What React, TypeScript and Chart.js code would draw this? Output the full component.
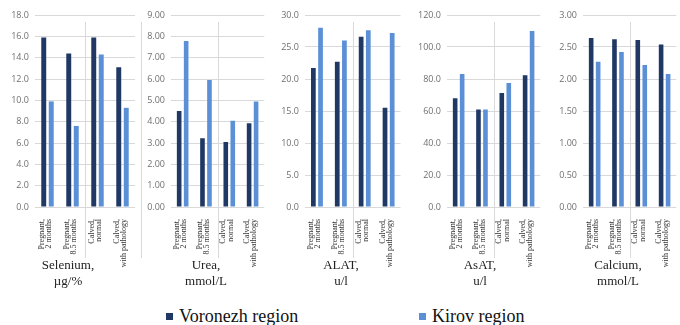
import React, { useEffect, useRef } from "react";
import { Chart, registerables } from "chart.js";

Chart.register(...registerables);

// ---- data ----
const categories: string[][] = [
  ["Pregnant,", "2 months"],
  ["Pregnant,", "8.5 months"],
  ["Calved,", "normal"],
  ["Calved,", "with pathology"],
];
const seriesNames = ["Voronezh region", "Kirov region"];
const panelTitles: string[][] = [
  ["Selenium,", "µg/%"],
  ["Urea,", "mmol/L"],
  ["ALAT,", "u/l"],
  ["AsAT,", "u/l"],
  ["Calcium,", "mmol/L"],
];
const voronezhSelenium = [15.9, 14.4, 15.9, 13.1];
const kirovSelenium = [9.9, 7.6, 14.3, 9.3];
const voronezhUrea = [4.5, 3.22, 3.05, 3.92];
const kirovUrea = [7.78, 5.95, 4.04, 4.94];
const voronezhALAT = [21.7, 22.7, 26.6, 15.5];
const kirovALAT = [28.0, 26.0, 27.6, 27.2];
const voronezhAsAT = [68.0, 61.0, 71.3, 82.3];
const kirovAsAT = [83.2, 61.0, 77.5, 110.0];
const voronezhCalcium = [2.64, 2.62, 2.61, 2.54];
const kirovCalcium = [2.27, 2.42, 2.22, 2.08];
const axisMax = [18, 9, 30, 120, 3];
const axisStep = [2, 1, 5, 20, 0.5];
const tickDecimals = [1, 2, 1, 1, 2];

const seriesByPanel = [
  [voronezhSelenium, kirovSelenium],
  [voronezhUrea, kirovUrea],
  [voronezhALAT, kirovALAT],
  [voronezhAsAT, kirovAsAT],
  [voronezhCalcium, kirovCalcium],
];

// ---- layout / style ----
const COLORS = ["#1f3864", "#5b90d6"];
const GRID = "#d9d9d9";
const CANVAS_H = 272;
const AREA_TOP = 15;
const AREA_BOTTOM = 207;
const panels = [
  { areaLeft: 35, areaW: 100, yW: 35, padRight: 8, edge: true, titleX: 68 },
  { areaLeft: 171, areaW: 100, yW: 36, padRight: 0, edge: false, titleX: 206 },
  { areaLeft: 305, areaW: 102, yW: 36, padRight: 0, edge: false, titleX: 341 },
  { areaLeft: 447, areaW: 100, yW: 42, padRight: 0, edge: false, titleX: 480 },
  { areaLeft: 583, areaW: 100, yW: 36, padRight: 0, edge: false, titleX: 618 },
];

const separatorPlugin = {
  id: "separator",
  beforeDatasetsDraw(chart: any, _args: any, opts: any) {
    const x = chart.scales.x;
    const ctx = chart.ctx;
    const mid = (x.getPixelForTick(1) + x.getPixelForTick(2)) / 2;
    ctx.save();
    ctx.strokeStyle = GRID;
    ctx.lineWidth = 1;
    const lines = [Math.round(mid) + 0.5];
    if (opts && opts.edge) lines.push(chart.width - 1.5);
    for (const lx of lines) {
      ctx.beginPath();
      ctx.moveTo(lx, 22);
      ctx.lineTo(lx, 258);
      ctx.stroke();
    }
    ctx.restore();
  },
};

function Panel({ idx }: { idx: number }) {
  const ref = useRef<HTMLCanvasElement>(null);
  const p = panels[idx];
  const width = p.yW + p.areaW + p.padRight;
  useEffect(() => {
    if (!ref.current) return;
    const chart = new Chart(ref.current, {
      type: "bar",
      data: {
        labels: categories,
        datasets: seriesByPanel[idx].map((vals, i) => ({
          label: seriesNames[i],
          data: vals,
          backgroundColor: COLORS[i],
          borderWidth: 0,
          categoryPercentage: 0.6,
          barPercentage: 0.66,
        })),
      },
      options: {
        responsive: false,
        animation: false,
        devicePixelRatio: 1,
        layout: { padding: { top: AREA_TOP, right: p.padRight, left: 0, bottom: 0 } },
        plugins: {
          legend: { display: false },
          tooltip: { enabled: false },
          separator: { edge: p.edge },
        } as any,
        scales: {
          x: {
            grid: { display: false },
            border: { display: false },
            ticks: {
              maxRotation: 90,
              minRotation: 90,
              padding: 4,
              labelOffset: -6,
              autoSkip: false,
              color: "#333333",
              font: { family: "'Liberation Serif', serif", size: 8, lineHeight: 0.9 },
            },
            afterFit: (s: any) => {
              s.height = CANVAS_H - AREA_BOTTOM;
            },
          },
          y: {
            min: 0,
            max: axisMax[idx],
            border: { display: false },
            grid: { color: GRID, drawTicks: false, lineWidth: 1 },
            ticks: {
              stepSize: axisStep[idx],
              padding: 6,
              color: "#707070",
              font: { family: "'Open Sans', sans-serif", size: 9 },
              callback: (v: any) => Number(v).toFixed(tickDecimals[idx]),
            },
            afterFit: (s: any) => {
              s.width = p.yW;
            },
          },
        },
      },
      plugins: [separatorPlugin],
    });
    return () => chart.destroy();
  }, [idx]);
  return (
    <canvas
      ref={ref}
      width={width}
      height={CANVAS_H}
      style={{ position: "absolute", left: p.areaLeft - p.yW, top: 0, width, height: CANVAS_H }}
    />
  );
}

export default function App() {
  return (
    <div
      style={{
        position: "absolute",
        left: 0,
        top: 0,
        width: 680,
        height: 325,
        overflow: "hidden",
        background: "#ffffff",
      }}
    >
      {panels.map((_, i) => (
        <Panel key={i} idx={i} />
      ))}
      {panels.map((p, i) => (
        <div
          key={"t" + i}
          style={{
            position: "absolute",
            left: p.titleX - 50,
            width: 100,
            top: 257,
            textAlign: "center",
            fontFamily: "'Liberation Serif', serif",
            fontSize: 13,
            lineHeight: "16px",
            color: "#222222",
          }}
        >
          {panelTitles[i].map((t, j) => (
            <div key={j}>{t}</div>
          ))}
        </div>
      ))}
      {seriesNames.map((name, i) => (
        <div
          key={"l" + i}
          style={{
            position: "absolute",
            left: i === 0 ? 166 : 419,
            top: 305,
            display: "flex",
            alignItems: "center",
            fontFamily: "'Liberation Serif', serif",
            fontSize: 18,
            lineHeight: "22px",
            color: "#111111",
            whiteSpace: "nowrap",
          }}
        >
          <span
            style={{
              display: "inline-block",
              width: 7,
              height: 7,
              background: COLORS[i],
              marginRight: 6,
            }}
          />
          {name}
        </div>
      ))}
    </div>
  );
}
